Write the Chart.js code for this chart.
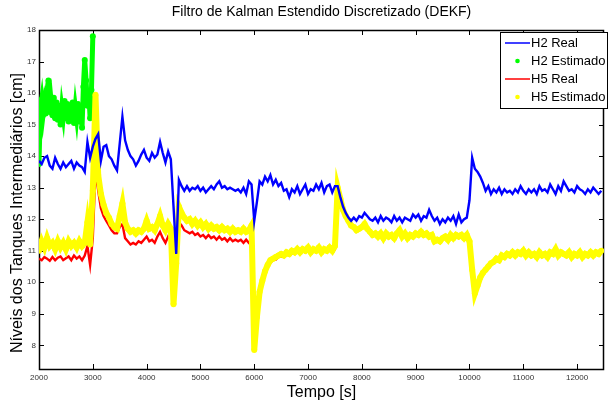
<!DOCTYPE html>
<html lang="pt-BR">
<head>
<meta charset="UTF-8" />
<title>DEKF - níveis dos tanques</title>
<style>
  html, body { margin: 0; padding: 0; background: #fff; }
  #grafico { display: block; }
</style>
</head>
<body>
<canvas id="grafico" width="608" height="406"></canvas>
<script src="https://cdn.jsdelivr.net/npm/chart.js"></script>
<script>
// amostras a partir de 2000 s: 50 s nas curvas longas, 25 s no H2 estimado
const inicio = 2000;
const passo = 50;
const passoH2Est = 25;

// H2 real (cada linha = 1000 s)
const h2Real = [
  13.85,13.75,13.95,14.00,13.70,13.60,13.95,13.75,13.60,13.80,13.65,13.75,13.85,13.60,13.80,13.70,13.65,13.50,14.45,13.95,
  14.30,14.55,14.70,13.85,14.30,14.35,14.00,13.90,13.70,13.55,14.40,15.25,14.50,14.20,14.00,13.90,13.70,13.85,14.05,14.20,
  13.95,13.85,14.10,13.95,14.05,14.45,14.10,13.80,14.15,13.90,12.40,10.90,13.25,13.05,12.90,13.05,12.90,13.00,12.95,13.05,
  12.90,13.00,12.85,12.95,13.05,12.95,13.10,13.20,13.00,13.05,12.95,13.00,12.95,12.90,12.95,12.85,13.00,12.80,13.20,13.10,
  11.95,12.55,13.20,13.10,13.35,13.20,13.40,13.10,13.25,13.05,13.15,12.90,12.95,12.70,12.95,12.85,13.05,12.80,12.95,13.10,
  12.80,12.95,12.90,13.10,12.95,13.15,12.85,13.05,13.10,12.85,13.05,13.05,12.70,12.40,12.20,12.05,11.95,12.05,11.95,12.10,
  12.05,12.20,12.10,12.00,11.95,12.05,11.90,12.10,11.95,12.05,12.00,11.90,12.10,11.95,12.05,11.90,12.05,12.00,11.95,12.15,
  12.05,12.15,11.95,12.10,12.05,12.30,12.10,11.95,12.05,11.85,12.00,11.90,12.05,11.95,12.10,11.85,12.15,11.90,12.00,12.05,
  12.60,13.95,13.60,13.50,13.35,13.15,12.90,13.05,12.80,12.95,12.85,13.00,12.80,12.95,12.85,12.90,12.80,12.95,12.85,13.05,
  12.90,12.80,12.95,12.85,12.95,12.80,13.05,12.90,12.95,12.85,13.10,12.95,12.80,13.05,12.90,13.20,13.05,12.90,12.95,12.85,
  13.05,12.95,12.90,12.80,12.95,12.85,13.00,12.90,12.80,12.90
];

// H2 estimado (só até 3000 s, depois fica sob a curva real)
const h2Estimado = [
  13.75,15.50,15.80,15.30,15.65,15.35,16.10,16.40,15.40,15.75,15.30,15.85,15.20,15.70,15.15,15.60,15.00,15.55,15.25,15.75,
  15.20,15.65,15.10,15.60,15.15,15.70,15.05,15.55,15.20,15.65,15.10,15.50,14.90,16.20,17.05,16.40,15.60,16.00,15.20,16.10,
  17.80
];

// H5 real
const h5Real = [
  10.75,10.70,10.80,10.75,10.68,10.80,10.70,10.78,10.82,10.70,10.76,10.82,10.70,10.85,10.75,10.82,10.70,10.85,11.15,10.55,
  11.40,13.55,12.90,12.35,12.10,11.95,11.80,11.65,11.55,11.55,11.75,11.85,11.40,11.30,11.20,11.25,11.20,11.30,11.25,11.35,
  11.45,11.30,11.35,11.25,11.45,11.60,11.40,11.25,11.45,11.35,10.70,10.90,11.90,11.80,11.65,11.60,11.55,11.60,11.50,11.55,
  11.45,11.50,11.40,11.50,11.40,11.45,11.35,11.45,11.35,11.40,11.30,11.40,11.30,11.35,11.30,11.35,11.25,11.35,11.25,11.30,
  8.20,8.75,9.55,9.95,10.25,10.50,10.62,10.70,10.72,10.80,10.82,10.80,10.88,10.85,10.92,10.90,10.98,10.90,10.98,10.95,
  11.02,10.90,11.00,10.95,11.02,10.90,11.00,10.95,11.05,10.95,11.05,12.95,12.60,12.25,12.05,11.90,11.75,11.70,11.60,11.65,
  11.70,11.80,11.65,11.55,11.45,11.50,11.40,11.50,11.35,11.50,11.40,11.45,11.35,11.50,11.60,11.40,11.50,11.35,11.45,11.40,
  11.50,11.45,11.55,11.45,11.50,11.40,11.45,11.25,11.30,11.25,11.35,11.40,11.30,11.45,11.35,11.45,11.40,11.45,11.35,11.45,
  11.25,10.35,9.60,9.85,10.10,10.25,10.35,10.45,10.55,10.60,10.70,10.65,10.80,10.75,10.85,10.80,10.90,10.80,10.90,10.85,
  10.95,10.80,10.90,10.80,10.85,10.75,10.90,10.80,10.85,10.75,10.90,10.85,11.00,10.80,10.90,10.85,10.80,10.90,10.75,10.85,
  10.80,10.90,10.75,10.85,10.80,10.90,10.80,10.90,10.85,10.95
];

// H5 estimado
const h5Estimado = [
  11.00,11.30,11.10,11.40,11.15,11.25,11.05,11.30,11.10,11.25,11.05,11.30,11.15,11.25,11.10,11.30,11.15,11.25,11.90,11.20,
  12.90,15.95,13.40,12.80,12.45,12.20,12.05,11.85,11.75,11.70,12.10,12.50,11.90,11.70,11.60,11.65,11.55,11.65,11.60,11.70,
  11.95,11.70,11.75,11.65,11.85,12.10,11.80,11.65,11.85,11.70,9.30,10.60,12.40,12.20,12.05,11.95,12.00,11.85,11.95,11.80,
  11.90,11.75,11.85,11.70,11.80,11.70,11.75,11.65,11.75,11.65,11.70,11.60,11.70,11.60,11.65,11.60,11.70,11.60,11.65,11.80,
  7.85,8.90,9.70,10.05,10.35,10.55,10.70,10.75,10.80,10.85,10.90,10.85,10.95,10.90,11.00,10.95,11.05,10.95,11.05,11.00,
  11.10,10.95,11.05,11.00,11.10,10.95,11.05,11.00,11.10,11.00,11.15,13.00,12.65,12.30,12.10,11.95,11.80,11.75,11.65,11.70,
  11.75,11.85,11.70,11.60,11.50,11.55,11.45,11.55,11.40,11.55,11.45,11.50,11.40,11.55,11.65,11.45,11.55,11.40,11.50,11.45,
  11.55,11.50,11.60,11.50,11.55,11.45,11.50,11.30,11.35,11.30,11.40,11.45,11.35,11.50,11.40,11.50,11.45,11.50,11.40,11.50,
  11.30,10.40,9.65,9.90,10.15,10.30,10.40,10.50,10.60,10.65,10.75,10.70,10.85,10.80,10.90,10.85,10.95,10.85,10.95,10.90,
  11.00,10.85,10.95,10.85,10.90,10.80,10.95,10.85,10.90,10.80,10.95,10.90,11.05,10.85,10.95,10.90,10.85,10.95,10.80,10.90,
  10.85,10.95,10.80,10.90,10.85,10.95,10.85,10.95,10.90,11.00
];

const xTicks = [2000, 3000, 4000, 5000, 6000, 7000, 8000, 9000, 10000, 11000, 12000];
const yTicks = [8, 9, 10, 11, 12, 13, 14, 15, 16, 17, 18];

const rotulos = ['H2 Real', 'H2 Estimado', 'H5 Real', 'H5 Estimado'];
const cores = ['#0000ff', '#00ff00', '#ff0000', '#ffff00'];

const titulo = 'Filtro de Kalman Estendido Discretizado (DEKF)';
const rotuloX = 'Tempo [s]';
const rotuloY = 'Níveis dos Tanques Intermediários [cm]';

const fonte = "'Liberation Sans', Arial, sans-serif";
const fonteTicks = "'Liberation Sans Narrow', 'Liberation Sans', Arial, sans-serif";

// monta os pontos {x, y} com o instante de cada amostra
function pares(valores, dt) {
  return valores.map((v, i) => ({ x: inicio + i * dt, y: v }));
}

// moldura fechada com ticks para dentro (estilo MATLAB)
const eixos = {
  id: 'eixos',
  beforeDatasetsDraw(chart) {
    const { ctx, chartArea: a, scales: { x, y } } = chart;
    ctx.save();
    ctx.strokeStyle = '#000';
    ctx.lineWidth = 1;
    ctx.beginPath();
    x.ticks.forEach(t => {
      const px = Math.round(x.getPixelForValue(t.value)) + 0.5;
      ctx.moveTo(px, a.bottom); ctx.lineTo(px, a.bottom - 5);
      ctx.moveTo(px, a.top); ctx.lineTo(px, a.top + 5);
    });
    y.ticks.forEach(t => {
      const py = Math.round(y.getPixelForValue(t.value)) + 0.5;
      ctx.moveTo(a.left, py); ctx.lineTo(a.left + 5, py);
      ctx.moveTo(a.right, py); ctx.lineTo(a.right - 5, py);
    });
    ctx.stroke();
    ctx.lineWidth = 1.5;
    ctx.strokeRect(a.left + 0.5, a.top + 0.5, a.right - a.left - 1, a.bottom - a.top);
    ctx.restore();
  }
};

// título e nomes dos eixos
const textos = {
  id: 'textos',
  afterDraw(chart) {
    const { ctx, chartArea: a } = chart;
    const cx = (a.left + a.right) / 2;
    ctx.save();
    ctx.fillStyle = '#000';
    ctx.textAlign = 'center';
    ctx.textBaseline = 'middle';
    ctx.font = '14px ' + fonte;
    ctx.fillText(titulo, cx, 12);
    ctx.font = '16px ' + fonte;
    ctx.fillText(rotuloX, cx, 393);
    ctx.translate(18, 213);
    ctx.rotate(-Math.PI / 2);
    ctx.fillText(rotuloY, 0, 0);
    ctx.restore();
  }
};

// legenda no canto superior direito
const legenda = {
  id: 'legenda',
  afterDraw(chart) {
    const { ctx } = chart;
    const bx = 500.5, by = 32.5, bw = 107, bh = 76;
    ctx.save();
    ctx.fillStyle = '#fff';
    ctx.fillRect(bx, by, bw, bh);
    ctx.strokeStyle = '#000';
    ctx.lineWidth = 1;
    ctx.strokeRect(bx, by, bw, bh);
    ctx.font = '13px ' + fonte;
    ctx.textBaseline = 'middle';
    ctx.textAlign = 'left';
    rotulos.forEach((rot, i) => {
      const yy = 43 + i * 18;
      if (rot.includes('Estimado')) {
        ctx.fillStyle = cores[i];
        ctx.beginPath();
        ctx.arc(517.5, yy, 2.3, 0, Math.PI * 2);
        ctx.fill();
      } else {
        ctx.strokeStyle = cores[i];
        ctx.lineWidth = 1.5;
        ctx.beginPath();
        ctx.moveTo(505, yy);
        ctx.lineTo(530, yy);
        ctx.stroke();
      }
      ctx.fillStyle = '#000';
      ctx.fillText(rot, 531, yy);
    });
    ctx.restore();
  }
};

const ctx = document.getElementById('grafico').getContext('2d');
new Chart(ctx, {
  type: 'line',
  data: {
    datasets: [
      { label: rotulos[0], data: pares(h2Real, passo), borderColor: cores[0], borderWidth: 2.4, pointRadius: 0, order: 0 },
      { label: rotulos[1], data: pares(h2Estimado, passoH2Est), borderColor: cores[1], backgroundColor: cores[1],
        borderWidth: 5, pointRadius: 3, pointBorderWidth: 0, order: 3 },
      { label: rotulos[2], data: pares(h5Real, passo), borderColor: cores[2], borderWidth: 2.4, pointRadius: 0, order: 2 },
      { label: rotulos[3], data: pares(h5Estimado, passo), borderColor: cores[3], backgroundColor: cores[3],
        borderWidth: 6, pointRadius: 3, pointBorderWidth: 0, order: 1 }
    ]
  },
  options: {
    responsive: false,
    animation: false,
    devicePixelRatio: 1,
    layout: { padding: { top: 30, left: 0, right: 0, bottom: 0 } },
    plugins: {
      legend: { display: false },
      tooltip: { enabled: false },
      title: { display: false }
    },
    scales: {
      x: {
        type: 'linear',
        min: 2000,
        max: 12500,
        afterBuildTicks: s => { s.ticks = xTicks.map(v => ({ value: v })); },
        afterFit: s => { s.height = 37; },
        grid: { display: false, drawTicks: false },
        border: { display: false },
        ticks: {
          font: { family: fonteTicks, size: 8 },
          color: '#333',
          padding: 4,
          maxRotation: 0,
          autoSkip: false,
          callback: v => String(v)
        }
      },
      y: {
        min: 7.25,
        max: 18,
        afterBuildTicks: s => { s.ticks = yTicks.map(v => ({ value: v })); },
        afterFit: s => { s.width = 39; },
        grid: { display: false, drawTicks: false },
        border: { display: false },
        ticks: {
          font: { family: fonteTicks, size: 8 },
          color: '#333',
          padding: 3,
          callback: v => String(v)
        }
      }
    }
  },
  plugins: [eixos, textos, legenda]
});
</script>
</body>
</html>
